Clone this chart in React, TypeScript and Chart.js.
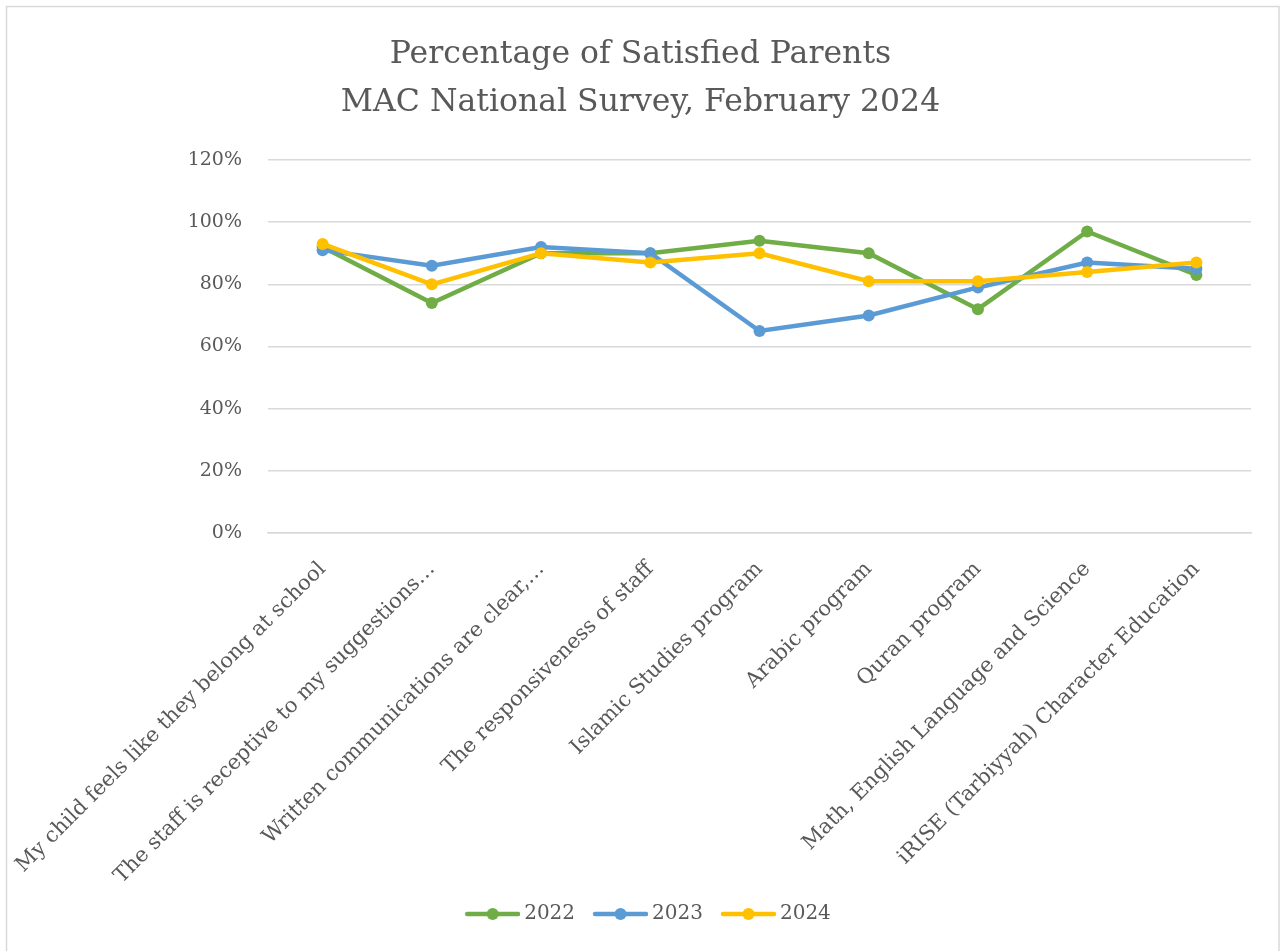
import React, { useEffect, useRef } from "react";
import { Chart, registerables } from "chart.js";

Chart.register(...registerables);

const categories = [
  "My child feels like they belong at school",
  "The staff is receptive to my suggestions…",
  "Written communications are clear,…",
  "The responsiveness of staff",
  "Islamic Studies program",
  "Arabic program",
  "Quran program",
  "Math, English Language and Science",
  "iRISE (Tarbiyyah) Character Education",
];
const series2022 = [92, 74, 90, 90, 94, 90, 72, 97, 83];
const series2023 = [91, 86, 92, 90, 65, 70, 79, 87, 85];
const series2024 = [93, 80, 90, 87, 90, 81, 81, 84, 87];
const seriesNames = ["2022", "2023", "2024"];
const seriesColors = ["#70AD47", "#5B9BD5", "#FFC000"];
const titleLines = ["Percentage of Satisfied Parents", "MAC National Survey, February 2024"];

const W = 1281;
const H = 951;
const FONT = "'DejaVu Serif', serif";
const TEXT = "#595959";
const GRID = "#d9d9d9";

function legendIcon(color: string): HTMLCanvasElement {
  // box width 50; image 62 wide centered on box -> extends 6px each side
  const c = document.createElement("canvas");
  c.width = 62;
  c.height = 14;
  const ctx = c.getContext("2d")!;
  ctx.strokeStyle = color;
  ctx.lineWidth = 4.5;
  ctx.lineCap = "round";
  ctx.beginPath();
  ctx.moveTo(9, 7);
  ctx.lineTo(60, 7);
  ctx.stroke();
  ctx.fillStyle = color;
  ctx.beginPath();
  ctx.arc(34.5, 7, 6, 0, Math.PI * 2);
  ctx.fill();
  return c;
}

export default function App() {
  const ref = useRef<HTMLCanvasElement>(null);
  useEffect(() => {
    if (!ref.current) return;
    const values = [series2022, series2023, series2024];
    const icons = seriesColors.map(legendIcon);
    const borderPlugin = {
      id: "outerBorder",
      afterLayout(chart: any) {
        if (chart.legend) {
          chart.legend.left += 7;
          chart.legend.right += 7;
        }
      },
      afterDraw(chart: any) {
        const ctx = chart.ctx;
        ctx.save();
        ctx.strokeStyle = GRID;
        ctx.lineWidth = 1.5;
        ctx.strokeRect(6.5, 6.5, 1272.5, 970);
        ctx.restore();
      },
    };
    const chart = new Chart(ref.current, {
      type: "line",
      data: {
        labels: categories,
        datasets: values.map((v, i) => ({
          label: seriesNames[i],
          data: v,
          borderColor: seriesColors[i],
          backgroundColor: seriesColors[i],
          borderWidth: 4.5,
          pointRadius: 6,
          pointHoverRadius: 6,
          pointBorderWidth: 0,
          tension: 0,
          order: 2 - i,
          yAxisID: "y",
        })),
      },
      options: {
        responsive: false,
        animation: false,
        layout: { padding: { left: 0, right: 0, top: 0, bottom: 17 } },
        plugins: {
          title: {
            display: true,
            text: titleLines,
            color: TEXT,
            font: { family: FONT, size: 31.5, weight: "normal", lineHeight: "48px" } as any,
            padding: { top: 31, bottom: 33 },
          },
          legend: {
            position: "bottom",
            labels: {
              usePointStyle: true,
              pointStyleWidth: 50,
              padding: 17,
              color: TEXT,
              font: { family: FONT, size: 20 },
              generateLabels: (chart: any) =>
                chart.data.datasets.map((ds: any, i: number) => ({
                  text: ds.label,
                  pointStyle: icons[i],
                  fillStyle: seriesColors[i],
                  strokeStyle: seriesColors[i],
                  lineWidth: 0,
                  fontColor: TEXT,
                  datasetIndex: i,
                  hidden: false,
                })),
            },
          },
          tooltip: { enabled: false },
        },
        scales: {
          x: {
            offset: true,
            grid: { display: false },
            border: { display: true, color: GRID, width: 1.5 },
            ticks: {
              color: TEXT,
              font: { family: FONT, size: 21 },
              minRotation: 45,
              maxRotation: 45,
              autoSkip: false,
              padding: 16,
            },
            afterFit: (s: any) => {
              s.height = 354;
              s.paddingLeft = 0;
              s.paddingRight = 0;
            },
          },
          y: {
            min: 0,
            max: 120,
            grid: { color: GRID, lineWidth: 1.5, drawTicks: false },
            border: { display: false },
            ticks: {
              stepSize: 20,
              color: TEXT,
              font: { family: FONT, size: 19 },
              padding: 26,
              callback: (v: any) => v + "%",
            },
            afterFit: (s: any) => {
              s.width = 268;
            },
          },
          yRight: {
            position: "right",
            display: true,
            grid: { display: false, drawTicks: false },
            border: { display: false },
            ticks: { display: false },
            afterFit: (s: any) => {
              s.width = 30;
            },
          },
        },
      },
      plugins: [borderPlugin],
    });
    return () => chart.destroy();
  }, []);
  return (
    <div style={{ position: "absolute", left: 0, top: 0, width: W, height: H, background: "#fff" }}>
      <canvas ref={ref} width={W} height={H} style={{ width: W, height: H, display: "block" }} />
    </div>
  );
}
